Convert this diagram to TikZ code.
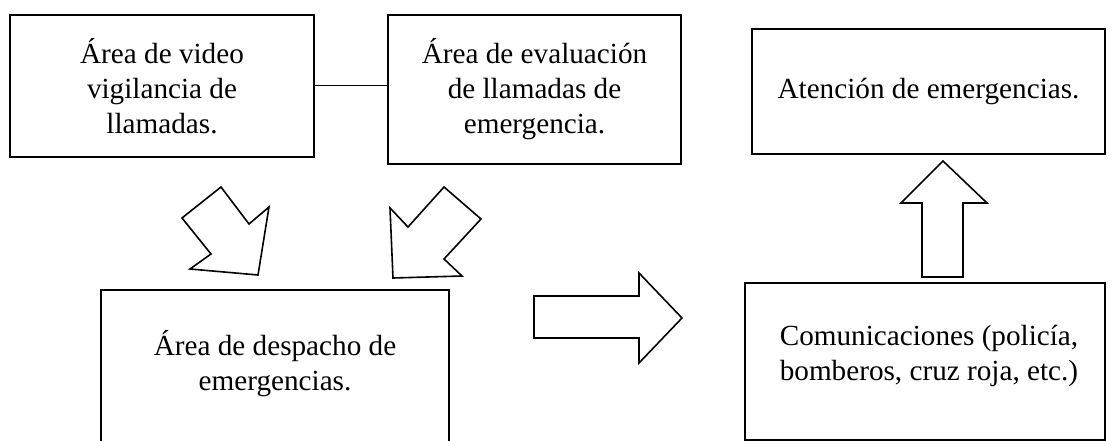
\documentclass[tikz,border=0pt]{standalone}
\usepackage{fontspec}
\setmainfont{Liberation Serif}
\begin{document}
\begin{tikzpicture}[x=1pt,y=-1pt,
  box/.style={draw, line width=2pt, inner sep=0pt},
  blockarrow/.style={draw, line width=1.6pt, line join=miter, fill=white},
  txt/.style={font=\fontsize{29.2}{35}\selectfont, align=center, inner sep=0pt}]
\useasboundingbox (0,0) rectangle (1120,441);

% top boxes
\node[box, txt, minimum width=304pt, minimum height=142pt] (b1) at (162,86)
  {Área de video\\vigilancia de\\llamadas.};
\node[box, txt, minimum width=293pt, minimum height=149pt] (b2) at (534.5,89.5)
  {Área de evaluación\\de llamadas de\\emergencia.};
\node[box, txt, minimum width=353pt, minimum height=125pt] (b3) at (928.5,91.5)
  {Atención de emergencias.};

% bottom boxes
\node[box, minimum width=348pt, minimum height=170pt] (b4) at (275,375) {};
\node[txt] (t4) at (275,364) {Área de despacho de\\emergencias.};
\node[box, minimum width=360pt, minimum height=157pt] (b5) at (925,361.5) {};
\node[txt] (t5) at (929,356) {Comunicaciones (policía,\\bomberos, cruz roja, etc.)};

% connector
\draw[line width=1pt] (b1.east) -- (b1.east -| b2.west);

% block arrows
\draw[blockarrow] (182,218) -- (221,187) -- (249,224) -- (269,207) -- (258,275) -- (190,269) -- (211,254) -- cycle;
\draw[blockarrow] (390,208) -- (408,227) -- (444,187) -- (481,219) -- (444,259) -- (462,276) -- (393,278) -- cycle;
\draw[blockarrow] (534,296) -- (639,296) -- (639,273) -- (682,318) -- (639,363) -- (639,338) -- (534,338) -- cycle;
\draw[blockarrow] (943,161) -- (987,203) -- (963,203) -- (963,277) -- (922,277) -- (922,203) -- (901,203) -- cycle;
\end{tikzpicture}
\end{document}
